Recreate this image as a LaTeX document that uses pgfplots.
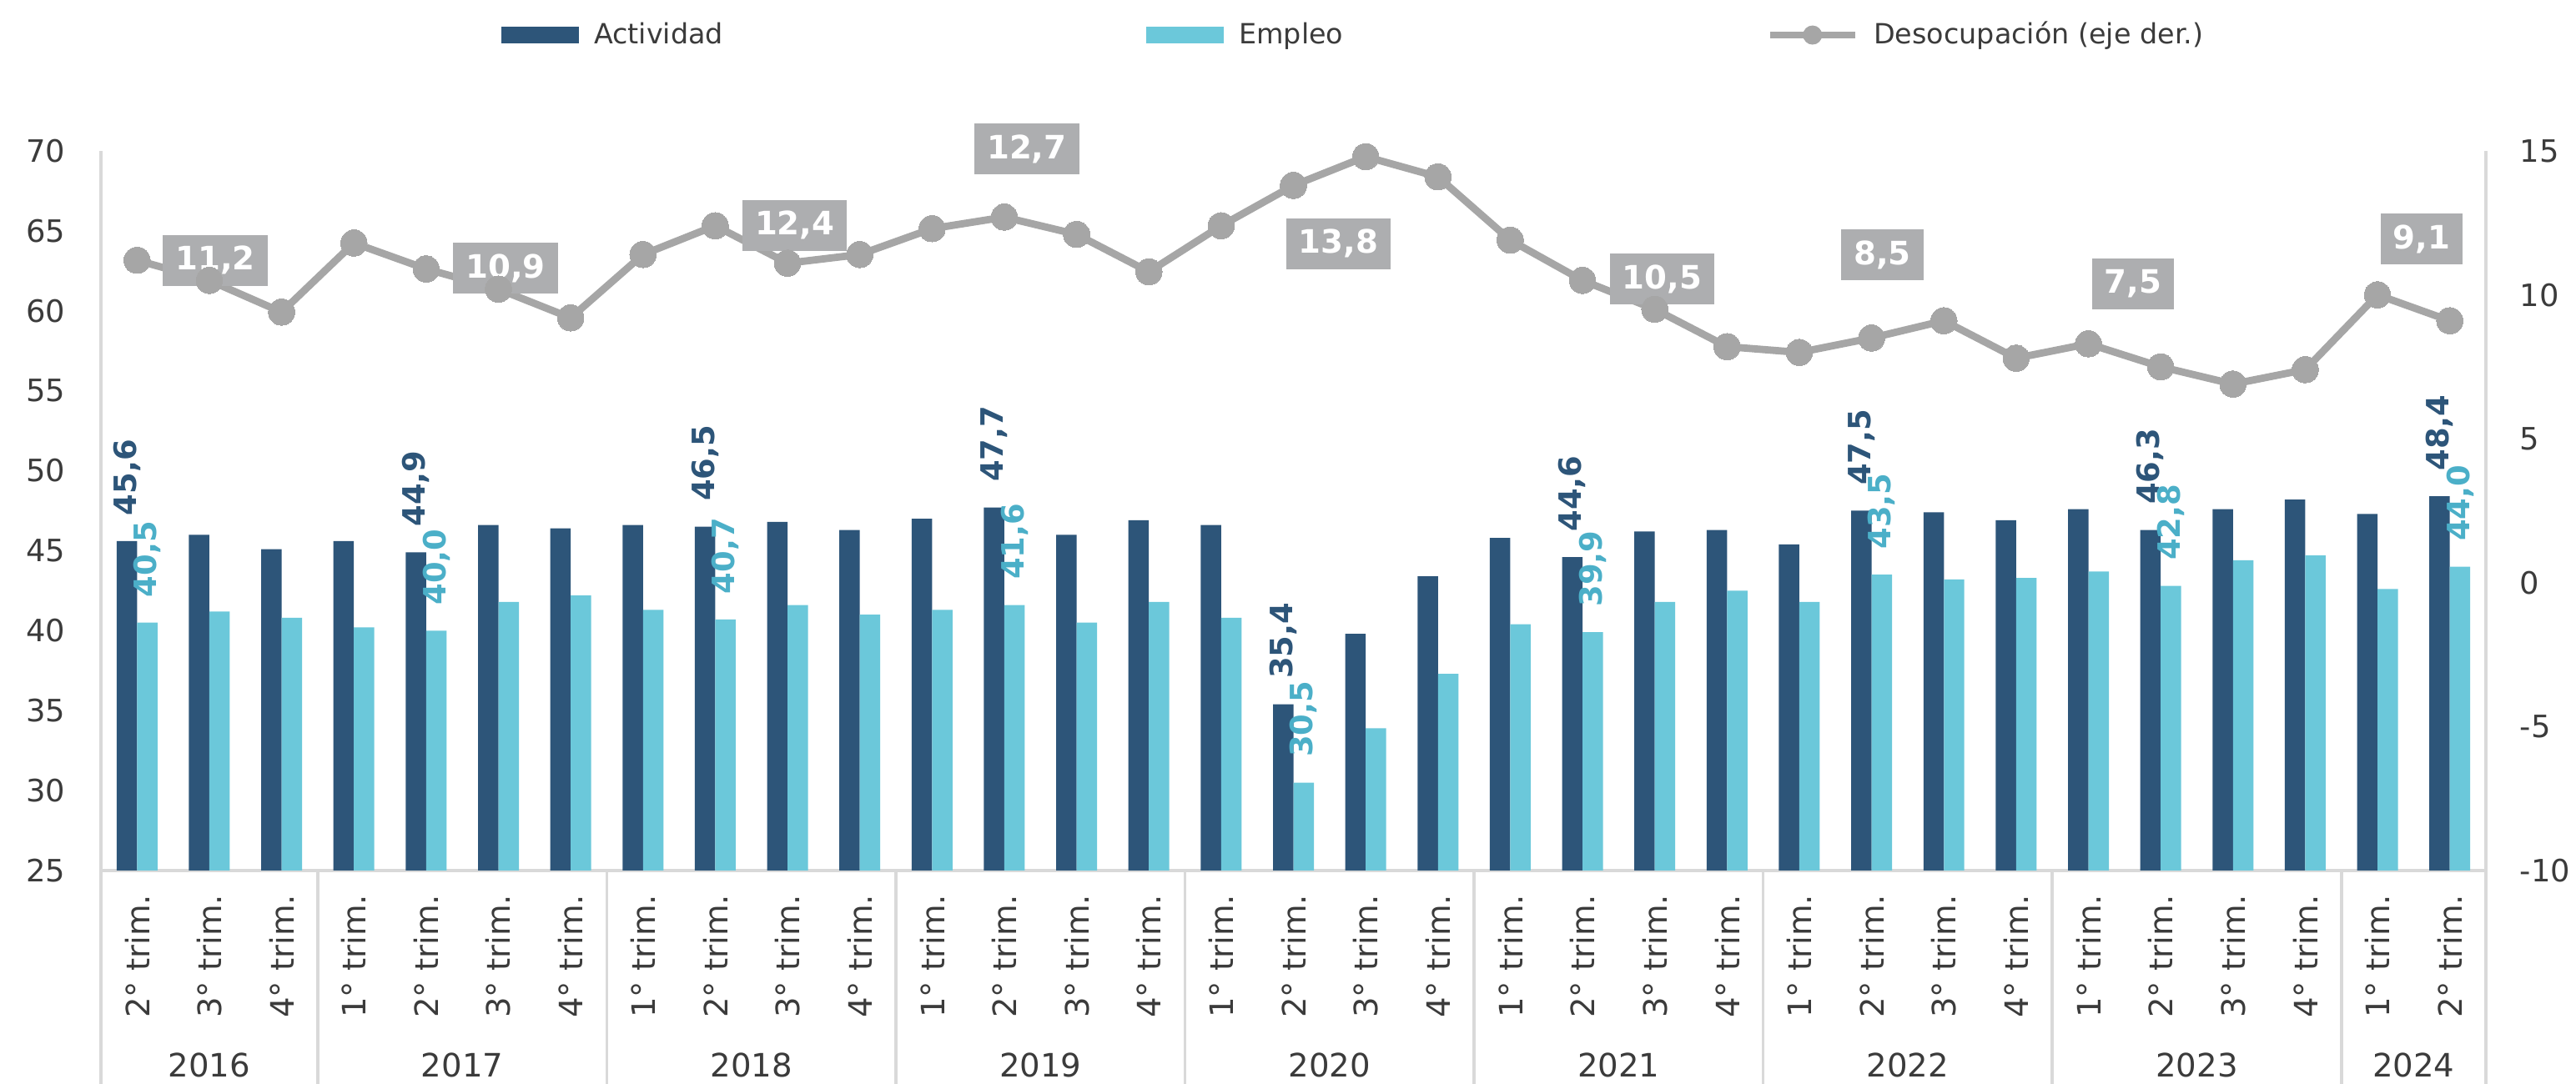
\documentclass[border=0pt]{standalone}
\usepackage{fontspec}
\setmainfont{DejaVu Sans}
\usepackage{pgfplots}
\pgfplotsset{compat=1.18}
\usepackage{pgfplotstable}

\definecolor{actividad}{HTML}{2D5579}
\definecolor{empleo}{HTML}{6BC8DA}
\definecolor{empleolab}{HTML}{4BAFC8}
\definecolor{desoc}{HTML}{A6A6A6}
\definecolor{boxgray}{HTML}{ADAEB0}
\definecolor{axisgray}{HTML}{D9D9D9}
\definecolor{txt}{HTML}{3B3B3B}

% x: quarter index (2016 Q2 = 0), act/emp: tasas (eje izq.), des: desocupacion (eje der.)
\pgfplotstableread{
x  act  emp  des  lact  lemp
0  45.6 40.5 11.2 45,6  40,5
1  46.0 41.2 10.5 {}    {}
2  45.1 40.8 9.4  {}    {}
3  45.6 40.2 11.8 {}    {}
4  44.9 40.0 10.9 44,9  40,0
5  46.6 41.8 10.2 {}    {}
6  46.4 42.2 9.2  {}    {}
7  46.6 41.3 11.4 {}    {}
8  46.5 40.7 12.4 46,5  40,7
9  46.8 41.6 11.1 {}    {}
10 46.3 41.0 11.4 {}    {}
11 47.0 41.3 12.3 {}    {}
12 47.7 41.6 12.7 47,7  41,6
13 46.0 40.5 12.1 {}    {}
14 46.9 41.8 10.8 {}    {}
15 46.6 40.8 12.4 {}    {}
16 35.4 30.5 13.8 35,4  30,5
17 39.8 33.9 14.8 {}    {}
18 43.4 37.3 14.1 {}    {}
19 45.8 40.4 11.9 {}    {}
20 44.6 39.9 10.5 44,6  39,9
21 46.2 41.8 9.5  {}    {}
22 46.3 42.5 8.2  {}    {}
23 45.4 41.8 8.0  {}    {}
24 47.5 43.5 8.5  47,5  43,5
25 47.4 43.2 9.1  {}    {}
26 46.9 43.3 7.8  {}    {}
27 47.6 43.7 8.3  {}    {}
28 46.3 42.8 7.5  46,3  42,8
29 47.6 44.4 6.9  {}    {}
30 48.2 44.7 7.4  {}    {}
31 47.3 42.6 10.0 {}    {}
32 48.4 44.0 9.1  48,4  44,0
}\datatable

\begin{document}
\begin{tikzpicture}
\pgfplotsset{
  base/.style={
    scale only axis, width=28.59cm, height=8.63cm,
    xmin=-0.5, xmax=32.5,
    major tick length=0pt,
    ticklabel style={font=\fontsize{10.5}{12}\selectfont, text=txt},
    /pgf/number format/assume math mode=true,
  },
  nolinearrows/.style={
    axis line style={draw=axisgray, line width=1pt},
    every outer x axis line/.append style={-},
    every outer y axis line/.append style={-},
    every inner x axis line/.append style={-},
    every inner y axis line/.append style={-},
  },
}
\tikzset{
  dbox/.style={fill=boxgray, text=white, font=\bfseries\fontsize{11}{13}\selectfont,
    inner xsep=0.15cm, inner ysep=0pt, minimum height=0.61cm},
  yr/.style={font=\fontsize{11}{13}\selectfont, text=txt, yshift=-2.33cm},
}
%% ── barras: Actividad / Empleo (eje izq.) ────────────────────────────
\begin{axis}[base,
  name=main,
  clip mode=individual,
  ymin=25, ymax=70, ytick={25,30,...,70},
  axis x line=bottom, axis y line=left, nolinearrows,
  yticklabel style={inner sep=0pt}, yticklabel shift=0.42cm,
  xtick={0,...,32},
  xticklabels={2° trim.,3° trim.,4° trim.,
    1° trim.,2° trim.,3° trim.,4° trim.,
    1° trim.,2° trim.,3° trim.,4° trim.,
    1° trim.,2° trim.,3° trim.,4° trim.,
    1° trim.,2° trim.,3° trim.,4° trim.,
    1° trim.,2° trim.,3° trim.,4° trim.,
    1° trim.,2° trim.,3° trim.,4° trim.,
    1° trim.,2° trim.,3° trim.,4° trim.,
    1° trim.,2° trim.},
  xticklabel style={rotate=90, anchor=east, inner sep=0pt, font=\fontsize{11}{13}\selectfont},
  xticklabel shift=0.28cm,
  ybar=0pt, bar width=0.245cm,
  nodes near coords, point meta=explicit symbolic,
  every node near coord/.append style={rotate=90, anchor=west, inner ysep=0pt, inner xsep=0.3cm,
    font=\bfseries\fontsize{10.5}{12}\selectfont},
]
\addplot[fill=actividad, draw=none, every node near coord/.append style={text=actividad}]
  table[x=x, y=act, meta=lact] {\datatable};
\addplot[fill=empleo, draw=none, every node near coord/.append style={text=empleolab}]
  table[x=x, y=emp, meta=lemp] {\datatable};

% year separators and labels
\pgfplotsinvokeforeach{-0.5,2.5,6.5,10.5,14.5,18.5,22.5,26.5,30.5,32.5}{
  \draw[axisgray, line width=1pt] (axis cs:#1,25) -- (axis cs:#1,11.65);
}
\node[yr] at (axis cs:1,25) {2016};
\node[yr] at (axis cs:4.5,25) {2017};
\node[yr] at (axis cs:8.5,25) {2018};
\node[yr] at (axis cs:12.5,25) {2019};
\node[yr] at (axis cs:16.5,25) {2020};
\node[yr] at (axis cs:20.5,25) {2021};
\node[yr] at (axis cs:24.5,25) {2022};
\node[yr] at (axis cs:28.5,25) {2023};
\node[yr] at (axis cs:31.5,25) {2024};
\end{axis}

%% ── línea: Desocupación (eje der.) ──────────────────────────────────
\begin{axis}[base,
  clip=false,
  ymin=-10, ymax=15, ytick={-10,-5,0,5,10,15},
  yticklabels={-10,-5,0,5,10,15},
  axis y line=right, axis x line=none, xtick=\empty, nolinearrows,
  yticklabel style={inner sep=0pt, anchor=west}, yticklabel shift=0.4cm,
  legend columns=3,
  legend style={at={(0.1675,1.161)}, anchor=west, draw=none, fill=none, inner sep=0pt,
    font=\fontsize{9.5}{11}\selectfont, nodes={text=txt},
    /tikz/every odd column/.append style={column sep=0.11cm},
    /tikz/every even column/.append style={column sep=5.0cm}},
]
\addlegendimage{legend image code/.code={\fill[actividad] (0cm,-0.09cm) rectangle (0.92cm,0.09cm);}}
\addlegendentry{Actividad}
\addlegendimage{legend image code/.code={\fill[empleo] (0cm,-0.09cm) rectangle (0.92cm,0.09cm);}}
\addlegendentry{Empleo}
\addplot[desoc, line width=2.5pt, mark=*, mark size=4.5pt,
  mark options={fill=desoc, draw=desoc, line width=0pt},
  legend image code/.code={\draw[desoc, line width=2.5pt] (0cm,0cm) -- (1.02cm,0cm);
    \fill[desoc] (0.51cm,0cm) circle (0.07cm);}]
  table[x=x, y=des] {\datatable};
\addlegendentry{Desocupación (eje der.)}

% etiquetas de datos (2° trim. de cada año)
\node[dbox] at (axis cs:1.08,11.2) {11,2};
\node[dbox] at (axis cs:5.10,10.93) {10,9};
\node[dbox] at (axis cs:9.10,12.42) {12,4};
\node[dbox] at (axis cs:12.31,15.06) {12,7};
\node[dbox] at (axis cs:16.62,11.78) {13,8};
\node[dbox] at (axis cs:21.10,10.54) {10,5};
\node[dbox] at (axis cs:24.15,11.39) {8,5};
\node[dbox] at (axis cs:27.62,10.39) {7,5};
\node[dbox] at (axis cs:31.61,11.93) {9,1};
\end{axis}
\pgfresetboundingbox
\path (-1.21cm,-2.56cm) rectangle (29.67cm,10.44cm);
\end{tikzpicture}
\end{document}
